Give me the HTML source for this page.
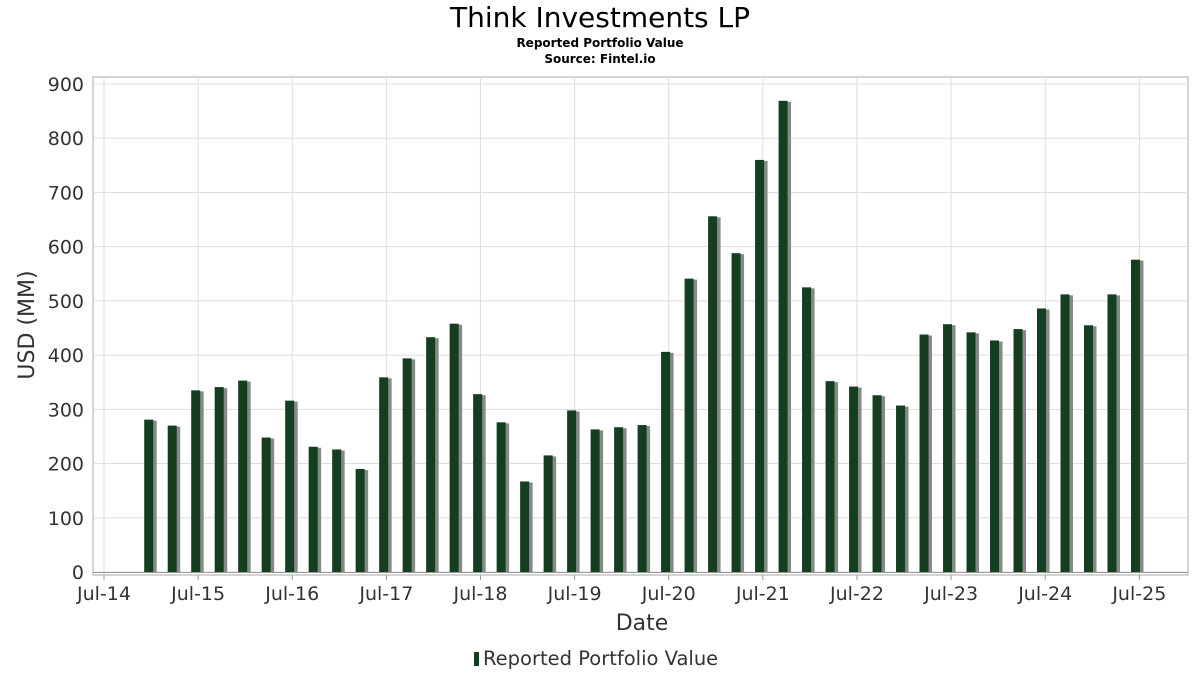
<!DOCTYPE html>
<html><head><meta charset="utf-8"><style>
body{margin:0;background:#fff;font-family:"DejaVu Sans","Liberation Sans",sans-serif}
</style></head><body>
<svg id="c" width="1200" height="675" xmlns="http://www.w3.org/2000/svg">
<text x="600" y="27" text-anchor="middle" font-size="28" fill="#000">Think Investments LP</text>
<text x="600" y="47" text-anchor="middle" font-size="12" font-weight="bold">Reported Portfolio Value</text>
<text x="600" y="63" text-anchor="middle" font-size="12" font-weight="bold">Source: Fintel.io</text>
<rect x="93" y="77" width="1095" height="498" fill="none" stroke="#aaa"/>
<g id="grid"></g><g id="bars"></g><g id="axes"></g>
<text x="642" y="630" text-anchor="middle" font-size="22" fill="#333">Date</text>
<text transform="translate(34,325) rotate(-90)" text-anchor="middle" font-size="22" fill="#333">USD (MM)</text>
<g><rect x="474" y="652" width="5" height="14" fill="#133f20"/><text x="483" y="665" font-size="19.5" fill="#333">Reported Portfolio Value</text></g>
</svg>
<script>
const yTicks=[0,100,200,300,400,500,600,700,800,900];
const xTickLabels=["Jul-14","Jul-15","Jul-16","Jul-17","Jul-18","Jul-19","Jul-20","Jul-21","Jul-22","Jul-23","Jul-24","Jul-25"];
const values=[281,270,335,341,353,248,316,231,226,190,359,394,433,458,328,276,167,215,298,263,267,271,406,541,656,588,760,869,525,352,342,326,307,438,457,442,427,448,486,512,455,512,576];
const firstQuarter=1.9;
const NS="http://www.w3.org/2000/svg";
const y=v=>572-v*(488/900);
const xq=q=>104+q*23.53;
function mk(t,a,p){const e=document.createElementNS(NS,t);for(const k in a)e.setAttribute(k,a[k]);document.getElementById(p).appendChild(e);return e;}
yTicks.forEach(v=>{
 const g=mk('line',{x1:93,x2:1188,y1:y(v),y2:y(v),stroke:'#ddd'},'grid');
 
 
 const t=mk('text',{x:84,y:y(v)+7,'text-anchor':'end','font-size':19,fill:'#333'},'axes');
 t.textContent=v;
 
 
});
xTickLabels.forEach((l,i)=>{
 const x=xq(i*4);
 const g=mk('line',{x1:x,x2:x,y1:77,y2:575,stroke:'#ddd'},'grid');
 
 
 mk('line',{x1:x,x2:x,y1:575,y2:580,stroke:'#999'},'axes');
 const t=mk('text',{x:x,y:600,'text-anchor':'middle','font-size':19,fill:'#333'},'axes');
 t.textContent=l;
 
 
});
mk('line',{x1:93,x2:1188,y1:572.5,y2:572.5,stroke:'#999'},'axes');
values.forEach((v,i)=>{
 const cx=xq(firstQuarter+i*0.9985);
 const s=mk('rect',{x:cx-4+3,y:y(v)+1,width:9,height:572-y(v)-1,fill:'#888'},'bars');
 
 
 const b=mk('rect',{x:cx-4.5,y:y(v),width:9,height:572-y(v),fill:'#133f20'},'bars');
 
 
});
</script>
</body></html>
